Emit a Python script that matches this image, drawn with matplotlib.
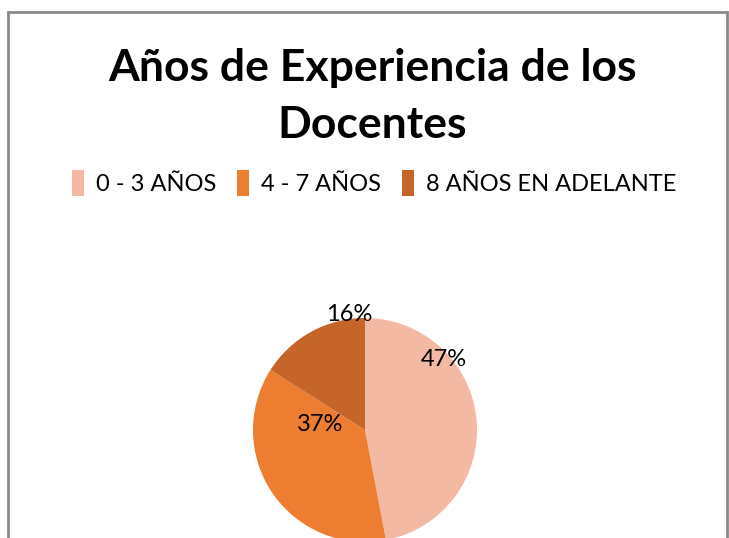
import matplotlib.pyplot as plt
from matplotlib.patches import Rectangle

categorias = ["0 - 3 AÑOS", "4 - 7 AÑOS", "8 AÑOS EN ADELANTE"]
valores = [47, 37, 16]
colores = ["#F4B9A3", "#ED7D31", "#C5652A"]
# label positions in pie units (Excel "best fit")
pos_etiquetas = [(0.70, 0.63), (-0.40, 0.05), (-0.14, 1.03)]

plt.rcParams['font.family'] = ['Lato', 'DejaVu Sans']

W, H = 729, 538
fig = plt.figure(figsize=(W / 100, H / 100), dpi=100)
fig.patch.set_facecolor("white")

# chart border
fig.add_artist(Rectangle((8 / W, -0.1), (727 - 8) / W, (H - 12) / H + 0.1,
                         transform=fig.transFigure, fill=False,
                         edgecolor="#888888", linewidth=2))

fig.text(372 / W, 1 - 68 / H, "Años de Experiencia de los", ha="center", va="center",
         fontsize=32, fontweight="bold")
fig.text(372 / W, 1 - 125 / H, "Docentes", ha="center", va="center",
         fontsize=32, fontweight="bold")

# pie: center (365, 430) px, radius 112 px
cx, cy, r = 365, 430, 112
ax = fig.add_axes([(cx - r) / W, (H - cy - r) / H, 2 * r / W, 2 * r / H])
wedges, _ = ax.pie(valores, colors=colores, startangle=90, counterclock=False,
                   wedgeprops=dict(linewidth=0))
ax.set_xlim(-1, 1)
ax.set_ylim(-1, 1)
ax.set_aspect("equal")
for v, (x, y) in zip(valores, pos_etiquetas):
    ax.text(x, y, f"{v}%", ha="center", va="center", fontsize=17, clip_on=False)

handles = [Rectangle((0, 0), 1, 1, facecolor=c) for c in colores]
fig.legend(handles, categorias, loc="center", bbox_to_anchor=(374 / W, 1 - 183 / H),
           ncol=3, frameon=False, fontsize=17, handlelength=0.5, handleheight=1.3,
           handletextpad=0.5, columnspacing=0.9)

fig.savefig("out.png", dpi=100)
